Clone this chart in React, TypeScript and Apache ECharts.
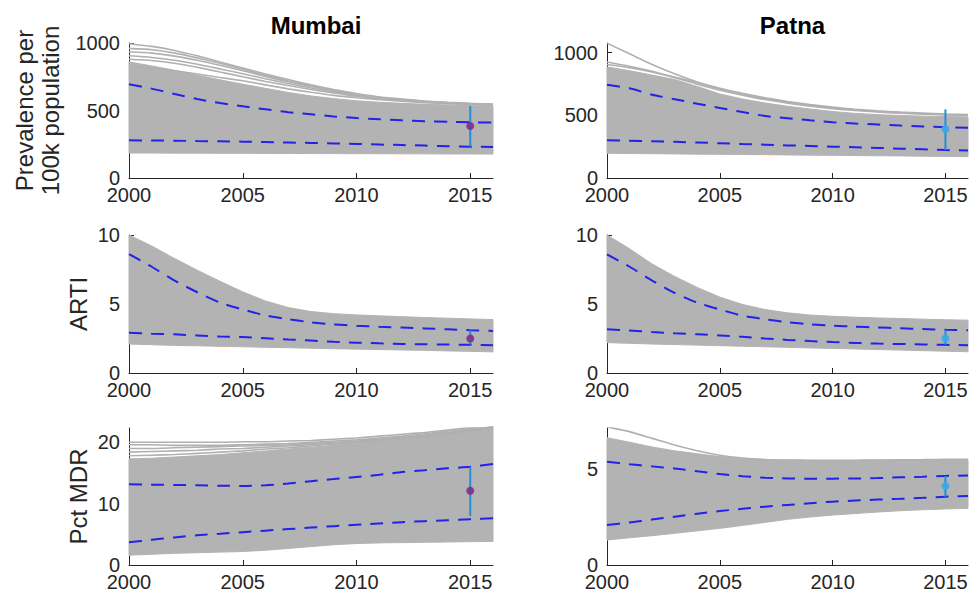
import React, { useEffect, useRef } from 'react';
import * as echarts from 'echarts';

const YEARS = [2000, 2001, 2002, 2003, 2004, 2005, 2006, 2007, 2008, 2009, 2010, 2011, 2012, 2013, 2014, 2015, 2016];
const X_TICKS = [2000, 2005, 2010, 2015];
const CITIES = ['Mumbai', 'Patna'];
const ROW_LABELS = ['Prevalence per\n100k population', 'ARTI', 'Pct MDR'];

// ---------- Mumbai prevalence ----------
const mPrevLow = [185, 185, 184, 184, 183, 183, 182, 182, 181, 181, 180, 180, 179, 179, 178, 178, 177];
const mPrevHigh = [860, 830, 798, 762, 727, 695, 664, 634, 608, 588, 572, 561, 553, 546, 541, 536, 531];
const mPrevOut1 = [995, 975, 945, 905, 860, 815, 770, 730, 690, 655, 625, 600, 585, 570, 560, 553, 548];
const mPrevOut2 = [960, 950, 925, 890, 850, 805, 760, 720, 685, 650, 620, 598, 582, 568, 558, 550, 545];
const mPrevOut3 = [935, 925, 903, 872, 835, 795, 752, 713, 678, 645, 616, 595, 580, 566, 556, 549, 544];
const mPrevOut4 = [905, 893, 872, 843, 808, 772, 735, 700, 667, 637, 610, 591, 577, 564, 555, 548, 543];
const mPrevOut5 = [880, 870, 850, 820, 785, 750, 715, 685, 655, 630, 605, 588, 575, 563, 555, 548, 543];
const mPrevOut6 = [830, 815, 795, 770, 745, 720, 690, 660, 635, 612, 595, 580, 568, 558, 550, 544, 540];
const mPrevUpper = [695, 662, 622, 585, 555, 531, 509, 487, 472, 456, 444, 435, 427, 421, 416, 413, 410];
const mPrevLower = [279, 278, 276, 274, 272, 269, 266, 263, 260, 256, 252, 248, 244, 240, 236, 232, 230];
const mPrevObs = [232, 385, 533]; // low, point, high (2015)

// ---------- Patna prevalence ----------
const pPrevLow = [197, 195, 194, 192, 190, 189, 187, 186, 184, 182, 181, 179, 177, 176, 174, 172, 170];
const pPrevHigh = [885, 855, 820, 785, 730, 670, 630, 598, 572, 550, 530, 515, 505, 498, 493, 490, 487];
const pPrevOut1 = [1075, 990, 905, 830, 765, 715, 675, 640, 610, 585, 565, 548, 535, 525, 517, 510, 505];
const pPrevOut2 = [925, 890, 850, 805, 760, 710, 668, 632, 603, 578, 558, 542, 530, 520, 512, 506, 501];
const pPrevOut3 = [905, 880, 845, 800, 748, 700, 660, 625, 597, 573, 553, 538, 526, 516, 509, 503, 498];
const pPrevUpper = [743, 715, 664, 628, 592, 558, 526, 494, 477, 460, 445, 434, 426, 418, 411, 405, 400];
const pPrevLower = [300, 297, 293, 288, 283, 277, 271, 266, 260, 255, 250, 245, 240, 234, 229, 223, 219];
const pPrevObs = [223, 390, 547];

// ---------- Mumbai ARTI ----------
const mArtiLow = [2.1, 2.05, 2.0, 1.97, 1.93, 1.9, 1.86, 1.83, 1.8, 1.76, 1.73, 1.7, 1.67, 1.64, 1.6, 1.57, 1.53];
const mArtiHigh = [10, 9.2, 8.3, 7.45, 6.65, 5.88, 5.22, 4.74, 4.45, 4.3, 4.21, 4.14, 4.08, 4.02, 3.97, 3.92, 3.87];
const mArtiUpper = [8.62, 7.7, 6.7, 5.85, 5.1, 4.6, 4.17, 3.9, 3.67, 3.52, 3.43, 3.35, 3.29, 3.23, 3.17, 3.1, 3.05];
const mArtiLower = [2.91, 2.85, 2.8, 2.72, 2.64, 2.6, 2.52, 2.43, 2.35, 2.26, 2.2, 2.15, 2.11, 2.08, 2.06, 2.04, 2.01];
const mArtiObs = [2.06, 2.5, 3.1];

// ---------- Patna ARTI ----------
const pArtiLow = [2.2, 2.15, 2.1, 2.06, 2.02, 1.98, 1.94, 1.9, 1.86, 1.82, 1.78, 1.74, 1.7, 1.66, 1.62, 1.58, 1.54];
const pArtiHigh = [10, 9.0, 7.9, 7.0, 6.2, 5.5, 4.97, 4.6, 4.36, 4.2, 4.11, 4.04, 3.99, 3.95, 3.9, 3.86, 3.83];
const pArtiUpper = [8.6, 7.7, 6.7, 5.8, 5.1, 4.6, 4.15, 3.9, 3.68, 3.53, 3.43, 3.36, 3.3, 3.24, 3.18, 3.13, 3.1];
const pArtiLower = [3.17, 3.08, 2.97, 2.88, 2.8, 2.72, 2.62, 2.5, 2.4, 2.31, 2.24, 2.18, 2.13, 2.1, 2.07, 2.04, 2.01];
const pArtiObs = [2.06, 2.5, 3.13];

// ---------- Mumbai MDR ----------
const mMdrLow = [1.6, 1.75, 1.9, 2.0, 2.1, 2.2, 2.4, 2.7, 3.0, 3.3, 3.5, 3.6, 3.65, 3.7, 3.75, 3.8, 3.85];
const mMdrHigh = [17.3, 17.4, 17.6, 17.8, 18.0, 18.3, 18.6, 18.9, 19.2, 19.5, 19.9, 20.3, 20.7, 21.1, 21.6, 22.1, 22.6];
const mMdrOut1 = [20.0, 20.0, 20.0, 20.0, 20.0, 20.1, 20.1, 20.2, 20.3, 20.5, 20.7, 21.0, 21.3, 21.6, 22.0, 22.4, 22.8];
const mMdrOut2 = [19.6, 19.6, 19.5, 19.5, 19.5, 19.6, 19.7, 19.8, 20.0, 20.2, 20.4, 20.7, 21.0, 21.4, 21.8, 22.2, 22.6];
const mMdrOut3 = [19.0, 19.0, 19.1, 19.2, 19.3, 19.4, 19.5, 19.6, 19.8, 20.0, 20.2, 20.5, 20.8, 21.2, 21.6, 22.0, 22.5];
const mMdrOut4 = [18.4, 18.5, 18.6, 18.7, 18.9, 19.0, 19.2, 19.4, 19.6, 19.8, 20.1, 20.4, 20.7, 21.1, 21.5, 21.9, 22.4];
const mMdrOut5 = [17.8, 17.9, 18.0, 18.2, 18.4, 18.6, 18.9, 19.1, 19.4, 19.7, 20.0, 20.3, 20.6, 21.0, 21.4, 21.8, 22.3];
const mMdrUpper = [13.15, 13.1, 13.05, 13.0, 12.92, 12.88, 13.0, 13.28, 13.65, 14.0, 14.35, 14.7, 15.15, 15.45, 15.75, 16.0, 16.45];
const mMdrLower = [3.7, 4.1, 4.5, 4.85, 5.1, 5.35, 5.6, 5.85, 6.1, 6.33, 6.55, 6.78, 6.98, 7.15, 7.3, 7.45, 7.6];
const mMdrObs = [8.0, 12.1, 16.0];

// ---------- Patna MDR ----------
const pMdrLow = [1.3, 1.42, 1.53, 1.65, 1.78, 1.91, 2.06, 2.22, 2.38, 2.5, 2.6, 2.68, 2.76, 2.83, 2.88, 2.92, 2.95];
const pMdrHigh = [6.63, 6.4, 6.15, 5.95, 5.8, 5.65, 5.55, 5.48, 5.46, 5.45, 5.45, 5.45, 5.46, 5.47, 5.48, 5.5, 5.5];
const pMdrOut1 = [7.2, 6.95, 6.6, 6.25, 5.95, 5.72, 5.58, 5.5, 5.47, 5.46, 5.46, 5.46, 5.47, 5.48, 5.49, 5.51, 5.51];
const pMdrUpper = [5.38, 5.25, 5.14, 5.03, 4.88, 4.74, 4.63, 4.55, 4.51, 4.5, 4.5, 4.51, 4.53, 4.57, 4.6, 4.64, 4.67];
const pMdrLower = [2.08, 2.22, 2.37, 2.52, 2.67, 2.81, 2.93, 3.04, 3.13, 3.22, 3.3, 3.36, 3.41, 3.45, 3.5, 3.56, 3.59];
const pMdrObs = [3.56, 4.11, 4.64];

// y ranges and tick values per panel (row-major: Mumbai, Patna)
const Y_MAX = [1000, 1076, 10, 10, 22.33, 7.14];
const Y_TICKS = [[0, 500, 1000], [0, 500, 1000], [0, 5, 10], [0, 5, 10], [0, 10, 20], [0, 5]];

const PANELS = [
  { low: mPrevLow, high: mPrevHigh, outs: [mPrevOut1, mPrevOut2, mPrevOut3, mPrevOut4, mPrevOut5, mPrevOut6], upper: mPrevUpper, lower: mPrevLower, obs: mPrevObs },
  { low: pPrevLow, high: pPrevHigh, outs: [pPrevOut1, pPrevOut2, pPrevOut3], upper: pPrevUpper, lower: pPrevLower, obs: pPrevObs },
  { low: mArtiLow, high: mArtiHigh, outs: [], upper: mArtiUpper, lower: mArtiLower, obs: mArtiObs },
  { low: pArtiLow, high: pArtiHigh, outs: [], upper: pArtiUpper, lower: pArtiLower, obs: pArtiObs },
  { low: mMdrLow, high: mMdrHigh, outs: [mMdrOut1, mMdrOut2, mMdrOut3, mMdrOut4, mMdrOut5], upper: mMdrUpper, lower: mMdrLower, obs: mMdrObs },
  { low: pMdrLow, high: pMdrHigh, outs: [pMdrOut1], upper: pMdrUpper, lower: pMdrLower, obs: pMdrObs },
];

const GRAY = '#b3b3b3';
const LINE_GRAY = '#b0b0b0';
const BLUE = '#2222e8';
const CYAN = '#1f8fd6';
const DOT_COLORS = ['#7e2f8e', '#3aa9e8'];
const FONT = '"Liberation Sans", Arial, Helvetica, sans-serif';
const TEXT = '#262626';

const COL_LEFT = [129, 607];
const COL_WIDTH = [364, 361];
const ROW_TOP = [43, 235, 428];
const ROW_HEIGHT = [135, 138, 137];

function buildOption() {
  const grids: any[] = [];
  const xAxes: any[] = [];
  const yAxes: any[] = [];
  const series: any[] = [];
  PANELS.forEach((p, i) => {
    const row = Math.floor(i / 2);
    const col = i % 2;
    grids.push({
      left: COL_LEFT[col],
      top: ROW_TOP[row],
      width: COL_WIDTH[col],
      height: ROW_HEIGHT[row],
      containLabel: false,
      outerBoundsMode: 'none',
    });
    xAxes.push({
      type: 'value',
      gridIndex: i,
      min: 2000,
      max: 2016,
      interval: 5,
      splitLine: { show: false },
      axisLine: { show: true, onZero: false, lineStyle: { color: TEXT, width: 1 } },
      axisTick: { show: true, inside: true, length: 5, lineStyle: { color: TEXT }, customValues: X_TICKS },
      axisLabel: {
        show: true,
        customValues: X_TICKS,
        margin: 7,
        color: TEXT,
        fontSize: 20,
        fontFamily: FONT,
        formatter: (v: number) => String(v),
      },
    });
    const yAx: any = {
      type: 'value',
      gridIndex: i,
      min: 0,
      max: Y_MAX[i],
      splitLine: { show: false },
      axisLine: { show: true, onZero: false, lineStyle: { color: TEXT, width: 1 } },
      axisTick: { show: true, inside: true, length: 5, lineStyle: { color: TEXT }, customValues: Y_TICKS[i] },
      axisLabel: {
        show: true,
        customValues: Y_TICKS[i],
        margin: 9,
        color: TEXT,
        fontSize: 20,
        fontFamily: FONT,
        formatter: (v: number) => String(v),
      },
    };
    if (col === 0) {
      yAx.name = ROW_LABELS[row];
      yAx.nameLocation = 'middle';
      yAx.nameGap = row === 0 ? 66 : 38;
      yAx.nameTextStyle = { color: TEXT, fontSize: 24, fontFamily: FONT, lineHeight: 26 };
    }
    yAxes.push(yAx);

    const pair = (arr: number[]) => YEARS.map((y, k) => [y, arr[k]]);
    const common = { xAxisIndex: i, yAxisIndex: i, symbol: 'none', silent: true };

    // dense ensemble of runs shown as a filled envelope
    series.push({
      type: 'custom',
      xAxisIndex: i,
      yAxisIndex: i,
      silent: true,
      z: 1,
      data: YEARS.map((y, k) => [y, p.low[k], p.high[k]]),
      encode: { x: 0, y: [1, 2] },
      renderItem: (params: any, api: any) => {
        if (params.dataIndex !== 0) return null;
        const top = YEARS.map((y, k) => api.coord([y, p.high[k]]));
        const bot = YEARS.map((y, k) => api.coord([y, p.low[k]])).reverse();
        return {
          type: 'polygon',
          shape: { points: top.concat(bot) },
          style: { fill: GRAY, stroke: GRAY, lineWidth: 1 },
        };
      },
    });
    p.outs.forEach((o) => {
      series.push({
        ...common,
        type: 'line',
        data: pair(o),
        smooth: 0.2,
        lineStyle: { color: LINE_GRAY, width: 1.6 },
        z: 2,
      });
    });
    [p.upper, p.lower].forEach((d) => {
      series.push({
        ...common,
        type: 'line',
        data: pair(d),
        smooth: 0.2,
        lineStyle: { color: BLUE, width: 2, type: [13, 9] },
        z: 3,
      });
    });
    series.push({
      ...common,
      type: 'line',
      data: [[2015, p.obs[0]], [2015, p.obs[2]]],
      lineStyle: { color: CYAN, width: 2 },
      z: 4,
    });
    series.push({
      xAxisIndex: i,
      yAxisIndex: i,
      type: 'scatter',
      silent: true,
      data: [[2015, p.obs[1]]],
      symbol: 'circle',
      symbolSize: 8,
      itemStyle: { color: DOT_COLORS[col], opacity: 0.9 },
      z: 5,
    });
  });

  return {
    animation: false,
    backgroundColor: '#ffffff',
    title: CITIES.map((c, col) => ({
      text: c,
      left: COL_LEFT[col] + COL_WIDTH[col] / 2,
      top: 8,
      textAlign: 'center',
      textStyle: { fontSize: 24, fontWeight: 'bold', color: '#000', fontFamily: FONT },
    })),
    grid: grids,
    xAxis: xAxes,
    yAxis: yAxes,
    series,
  };
}

export default function App() {
  const ref = useRef<HTMLDivElement>(null);
  useEffect(() => {
    if (!ref.current) return;
    const chart = echarts.init(ref.current, null, { renderer: 'svg' });
    chart.setOption(buildOption() as any);
    return () => chart.dispose();
  }, []);
  return (
    <div
      ref={ref}
      style={{ position: 'fixed', left: 0, top: 0, width: 974, height: 600, background: '#fff' }}
    />
  );
}
